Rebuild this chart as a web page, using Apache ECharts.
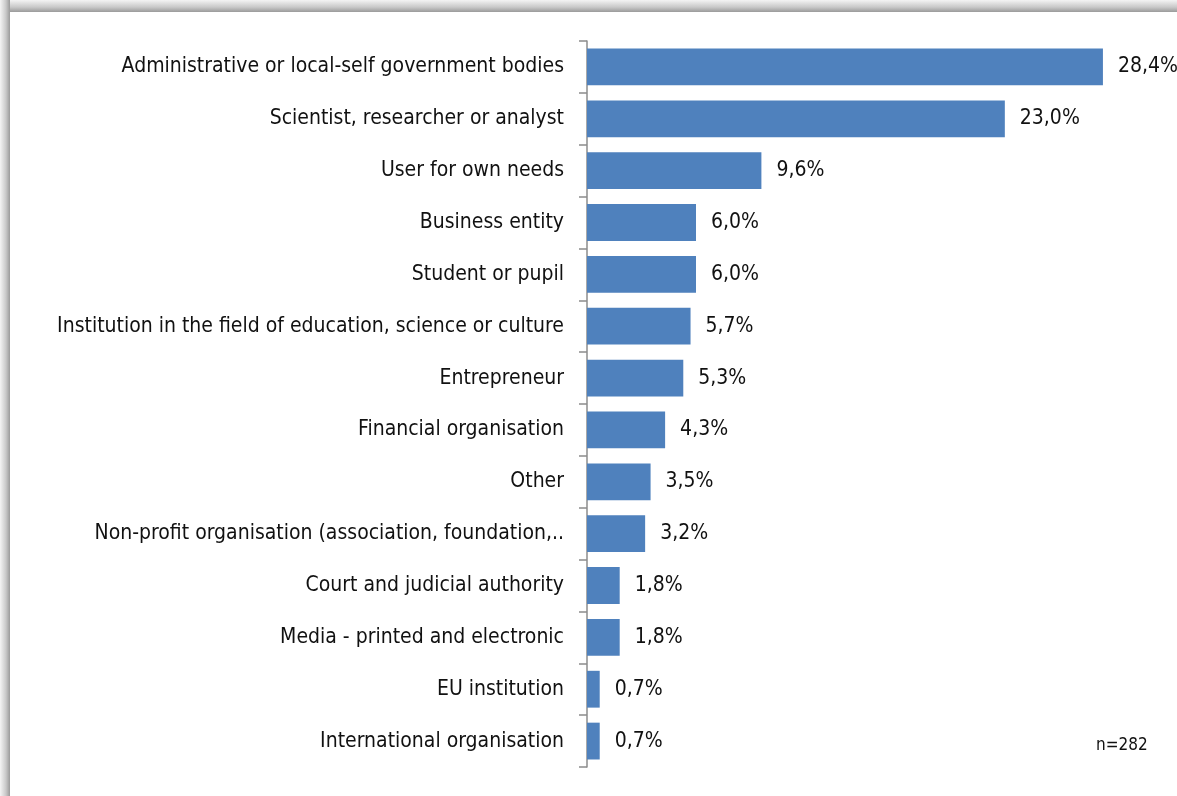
<!DOCTYPE html>
<html>
<head>
<meta charset="utf-8">
<script src="https://cdn.jsdelivr.net/npm/echarts@6/dist/echarts.min.js"></script>
<style>
  html, body { margin: 0; padding: 0; background: #fff; }
  #chart { width: 1177px; height: 796px; }
</style>
</head>
<body>
<div id="chart"></div>
<script>
// Respondent groups, listed top to bottom
const categories = [
  'Administrative or local-self government bodies',
  'Scientist, researcher or analyst',
  'User for own needs',
  'Business entity',
  'Student or pupil',
  'Institution in the field of education, science or culture',
  'Entrepreneur',
  'Financial organisation',
  'Other',
  'Non-profit organisation (association, foundation,..',
  'Court and judicial authority',
  'Media - printed and electronic',
  'EU institution',
  'International organisation'
];
// Share of respondents, percent
const shares = [28.4, 23.0, 9.6, 6.0, 6.0, 5.7, 5.3, 4.3, 3.5, 3.2, 1.8, 1.8, 0.7, 0.7];
const sampleNote = 'n=282';

const FONT = '"Liberation Sans Narrow", "DejaVu Sans Condensed", Arial, sans-serif';

const chart = echarts.init(document.getElementById('chart'));
chart.setOption({
  backgroundColor: '#ffffff',
  animation: false,
  grid: { left: 587, top: 41, width: 545, height: 726, containLabel: false },
  xAxis: {
    type: 'value', min: 0, max: 30,
    show: false
  },
  yAxis: {
    type: 'category',
    inverse: true,
    data: categories,
    axisLine: { show: true, lineStyle: { color: '#8c8c8c', width: 1.5 } },
    axisTick: { show: true, length: 8, lineStyle: { color: '#8c8c8c', width: 1.5 } },
    axisLabel: { color: '#111111', fontSize: 21, fontFamily: FONT, margin: 23, padding: [0, 0, 4, 0] },
    splitLine: { show: false }
  },
  series: [{
    type: 'bar',
    data: shares,
    barCategoryGap: '29%',
    itemStyle: { color: '#4F81BD' },
    label: {
      show: true,
      position: 'right',
      distance: 15,
      color: '#111111',
      fontSize: 21,
      fontFamily: FONT,
      padding: [0, 0, 4, 0],
      formatter: p => p.value.toFixed(1).replace('.', ',') + '%'
    }
  }],
  graphic: [
    // frame shadow along the top edge
    {
      type: 'rect', z: 100, silent: true,
      shape: { x: 0, y: 0, width: 1177, height: 12 },
      style: { fill: new echarts.graphic.LinearGradient(0, 0, 0, 1, [
        { offset: 0, color: '#f4f4f4' },
        { offset: 0.6, color: '#c8c8c8' },
        { offset: 1, color: '#9a9a9a' }
      ]) }
    },
    // frame shadow along the left edge
    {
      type: 'rect', z: 100, silent: true,
      shape: { x: 0, y: 0, width: 10, height: 796 },
      style: { fill: new echarts.graphic.LinearGradient(0, 0, 1, 0, [
        { offset: 0, color: '#f4f4f4' },
        { offset: 0.6, color: '#c8c8c8' },
        { offset: 1, color: '#9a9a9a' }
      ]) }
    },
    {
      type: 'text', z: 100, silent: true,
      left: 1096, top: 737,
      style: { text: sampleNote, fill: '#111111', fontSize: 17, fontFamily: FONT }
    }
  ]
});
</script>
</body>
</html>
